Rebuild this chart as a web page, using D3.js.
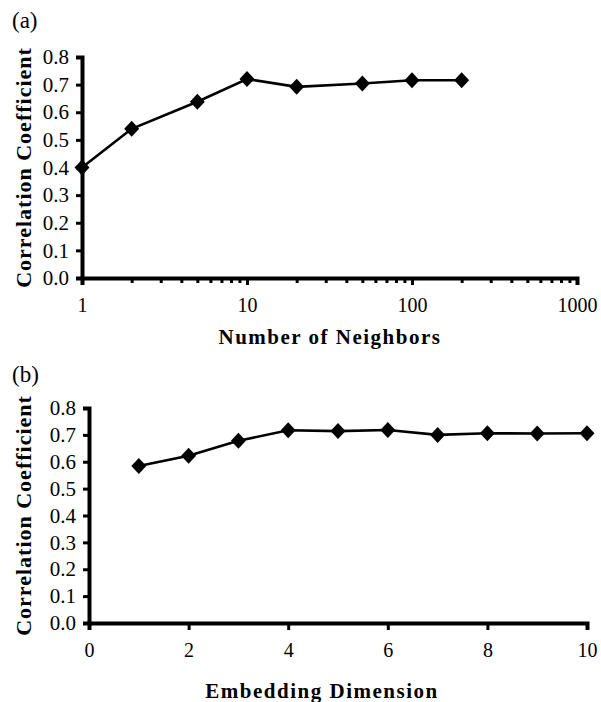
<!DOCTYPE html>
<html>
  <head>
    <meta charset="utf-8">
    <style>
      body { margin: 0; background: #fff; }
      text { font-family: "Liberation Serif", "Times New Roman", serif; fill: #000; }
    </style>
  </head>
  <body>
    <script src="https://d3js.org/d3.v7.min.js"></script>
    <svg id="chart" width="601" height="702"></svg>
    <script>
      // panel (a) data
      var neighbors = [1, 2, 5, 10, 20, 50, 100, 200];
      var corrA = [0.40, 0.54, 0.638, 0.72, 0.692, 0.704, 0.716, 0.716];
      var xTicksA = [1, 10, 100, 1000];

      // panel (b) data
      var dims = [1, 2, 3, 4, 5, 6, 7, 8, 9, 10];
      var corrB = [0.584, 0.622, 0.678, 0.717, 0.714, 0.718, 0.70, 0.706, 0.705, 0.706];
      var xTicksB = [0, 2, 4, 6, 8, 10];

      var yTicks = [0, 0.1, 0.2, 0.3, 0.4, 0.5, 0.6, 0.7, 0.8];

      var serif = "'Liberation Serif', 'Times New Roman', serif";
      var svg = d3.select("#chart");

      function panel(opts) {
        var g = svg.append("g");
        var x = opts.x, y = opts.y;

        // panel letter
        g.append("text")
          .attr("x", 12).attr("y", opts.labelY)
          .attr("font-size", 23)
          .text(opts.label);

        // y axis title
        g.append("text")
          .attr("transform", "translate(31," + (y.range()[0] + y.range()[1]) / 2 + ") rotate(-90)")
          .attr("text-anchor", "middle")
          .attr("font-size", 22)
          .attr("font-weight", "bold")
          .attr("letter-spacing", 1)
          .text("Correlation Coefficient");

        // y axis
        var yAxis = g.append("g")
          .attr("transform", "translate(" + x.range()[0] + ",0)")
          .attr("font-family", serif)
          .call(d3.axisLeft(y).tickValues(yTicks).tickSize(6).tickPadding(7)
            .tickFormat(d3.format(".1f")));
        yAxis.select(".domain").attr("stroke-width", 4);
        yAxis.selectAll(".tick line").attr("stroke-width", 3);
        yAxis.selectAll("text").attr("font-size", 21);

        // x axis minor ticks
        var xAxis = g.append("g")
          .attr("transform", "translate(0," + y.range()[0] + ")")
          .call(d3.axisBottom(x).tickValues(opts.minor || []).tickSize(5).tickFormat(""));
        xAxis.select(".domain").remove();
        xAxis.selectAll(".tick line").attr("stroke-width", 3);

        var xMajor = g.append("g")
          .attr("transform", "translate(0," + y.range()[0] + ")")
          .attr("font-family", serif)
          .call(d3.axisBottom(x).tickValues(opts.xTicks).tickSize(7).tickPadding(13)
            .tickFormat(d3.format("d")));
        xMajor.select(".domain").attr("stroke-width", 4);
        xMajor.selectAll(".tick line").attr("stroke-width", 3);
        xMajor.selectAll("text").attr("font-size", 20);

        // x axis title
        g.append("text")
          .attr("x", opts.titleX).attr("y", opts.titleY)
          .attr("text-anchor", "middle")
          .attr("font-size", 21)
          .attr("font-weight", "bold")
          .attr("letter-spacing", 1.5)
          .text(opts.title);

        var pts = opts.xs.map(function (d, i) { return [d, opts.ys[i]]; });

        g.append("path")
          .datum(pts)
          .attr("fill", "none")
          .attr("stroke", "#000")
          .attr("stroke-width", 2.6)
          .attr("d", d3.line().x(function (d) { return x(d[0]); }).y(function (d) { return y(d[1]); }));

        g.selectAll(".pt")
          .data(pts)
          .enter()
          .append("path")
            .attr("transform", function (d) { return "translate(" + x(d[0]) + "," + y(d[1]) + ")"; })
            .attr("d", "M0,-8L7.5,0L0,8L-7.5,0Z")
            .attr("fill", "#000");
      }

      // panel (a): log scale on neighbors
      var minorA = [];
      [1, 10, 100].forEach(function (b) {
        for (var k = 2; k <= 9; k++) minorA.push(b * k);
      });
      panel({
        label: "(a)", labelY: 28,
        x: d3.scaleLog().domain([1, 1000]).range([82, 577]),
        y: d3.scaleLinear().domain([0, 0.8]).range([278, 57]),
        xTicks: xTicksA, minor: minorA,
        xs: neighbors, ys: corrA,
        title: "Number of Neighbors", titleX: 330, titleY: 344
      });

      // panel (b): linear embedding dimension
      panel({
        label: "(b)", labelY: 382,
        x: d3.scaleLinear().domain([0, 10]).range([89, 587]),
        y: d3.scaleLinear().domain([0, 0.8]).range([623, 408]),
        xTicks: xTicksB,
        xs: dims, ys: corrB,
        title: "Embedding Dimension", titleX: 322, titleY: 698
      });
    </script>
  </body>
</html>
